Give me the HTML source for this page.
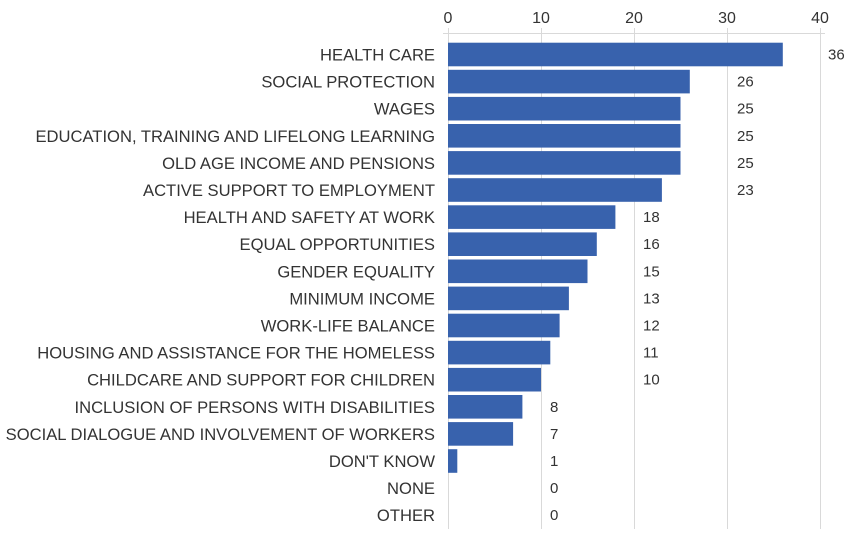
<!DOCTYPE html><html><head><style>body{margin:0;background:#fff}svg text{font-family:"Liberation Sans",sans-serif;fill:#333}</style></head><body>
<svg width="850" height="529" xmlns="http://www.w3.org/2000/svg">
<g stroke="#d9d9d9" stroke-width="1">
<line x1="443" y1="33.5" x2="825" y2="33.5"/>
<line x1="448.5" y1="28" x2="448.5" y2="529"/><line x1="541.5" y1="28" x2="541.5" y2="529"/><line x1="634.5" y1="28" x2="634.5" y2="529"/><line x1="727.5" y1="28" x2="727.5" y2="529"/><line x1="820.5" y1="28" x2="820.5" y2="529"/>
</g>
<g font-size="16" text-anchor="middle"><text x="448" y="23">0</text><text x="541" y="23">10</text><text x="634" y="23">20</text><text x="727" y="23">30</text><text x="820" y="23">40</text></g>
<g id="rows" font-size="16.6"></g>
</svg>
<script>
var d=[["HEALTH CARE",36,828],["SOCIAL PROTECTION",26,737],["WAGES",25,737],["EDUCATION, TRAINING AND LIFELONG LEARNING",25,737],["OLD AGE INCOME AND PENSIONS",25,737],["ACTIVE SUPPORT TO EMPLOYMENT",23,737],["HEALTH AND SAFETY AT WORK",18,643],["EQUAL OPPORTUNITIES",16,643],["GENDER EQUALITY",15,643],["MINIMUM INCOME",13,643],["WORK-LIFE BALANCE",12,643],["HOUSING AND ASSISTANCE FOR THE HOMELESS",11,643],["CHILDCARE AND SUPPORT FOR CHILDREN",10,643],["INCLUSION OF PERSONS WITH DISABILITIES",8,550],["SOCIAL DIALOGUE AND INVOLVEMENT OF WORKERS",7,550],["DON'T KNOW",1,550],["NONE",0,550],["OTHER",0,550]];
var s="";d.forEach(function(r,i){var c=54.5+i*27.1;
s+='<text x="435" y="'+(c+6)+'" text-anchor="end">'+r[0]+'</text>';
if(r[1]>0)s+='<rect x="448" y="'+(c-11.8)+'" width="'+(r[1]*9.3)+'" height="23.6" fill="#3862ad"/>';
s+='<text x="'+r[2]+'" y="'+(c+5)+'" font-size="15">'+r[1]+'</text>';});
document.getElementById("rows").innerHTML=s;
</script>
</body></html>
